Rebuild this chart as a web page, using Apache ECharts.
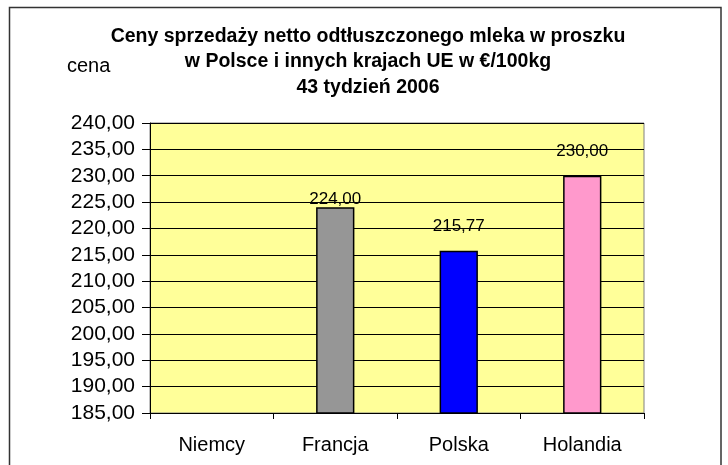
<!DOCTYPE html>
<html>
<head>
<meta charset="utf-8">
<script src="https://cdn.jsdelivr.net/npm/echarts@6/dist/echarts.min.js"></script>
<style>
html,body{margin:0;padding:0;background:#fff;}
#c{width:728px;height:465px;}
</style>
</head>
<body>
<div id="c"></div>
<script>
var categories = ['Niemcy', 'Francja', 'Polska', 'Holandia'];
var prices = [null, 224.00, 215.77, 230.00];
var titleLines = ['Ceny sprzedaży netto odtłuszczonego mleka w proszku', 'w Polsce i innych krajach UE w €/100kg', '43 tydzień 2006'];
var yAxisName = 'cena';
var yMin = 185, yMax = 240, yStep = 5;

var barColors = ['#969696', '#969696', '#0000FF', '#FF99CC'];
var labelDistances = [0, 0, 16, 16];
var FONT = '"Liberation Sans", Arial, sans-serif';

function fmt(v) { return v.toFixed(2).replace('.', ','); }

var chart = echarts.init(document.getElementById('c'), null, {renderer: 'canvas'});
var seriesData = prices.map(function (v, i) {
  return {
    value: v,
    itemStyle: {color: barColors[i]},
    label: {distance: labelDistances[i]}
  };
});

chart.setOption({
  animation: false,
  backgroundColor: '#fff',
  textStyle: {fontFamily: FONT},
  title: {
    text: titleLines.join('\n'),
    left: 368, top: 23.5, padding: 0,
    textAlign: 'center',
    textStyle: {fontFamily: FONT, fontSize: 19.5, fontWeight: 'bold', color: '#000', lineHeight: 25.5}
  },
  graphic: [
    {type: 'rect', shape: {x: 9.5, y: 7.5, width: 711.5, height: 480}, style: {fill: 'none', stroke: '#333', lineWidth: 1.5}, silent: true},
    {type: 'text', left: 67, top: 56, style: {text: yAxisName, font: '20px ' + FONT, fill: '#000'}}
  ],
  grid: {left: 150, right: 84, top: 123, bottom: 52, show: true, backgroundColor: '#FFFF99', borderColor: '#808080', borderWidth: 1},
  xAxis: {
    type: 'category',
    data: categories,
    axisLine: {lineStyle: {color: '#000', width: 1}},
    axisTick: {show: true, length: 6, lineStyle: {color: '#000'}},
    axisLabel: {fontFamily: FONT, fontSize: 20, color: '#000', margin: 22}
  },
  yAxis: {
    type: 'value',
    min: yMin, max: yMax, interval: yStep,
    axisLine: {show: true, lineStyle: {color: '#000', width: 1}},
    axisTick: {show: true, length: 8, lineStyle: {color: '#000'}},
    axisLabel: {fontFamily: FONT, fontSize: 21, color: '#000', margin: 15, formatter: function (v) { return fmt(v); }},
    splitLine: {show: true, lineStyle: {color: '#000', width: 1}}
  },
  series: [{
    type: 'bar',
    data: seriesData,
    barWidth: '31%',
    itemStyle: {borderColor: '#000', borderWidth: 1.5},
    label: {show: true, position: 'top', fontFamily: FONT, fontSize: 17, color: '#000', formatter: function (p) { return fmt(p.value); }}
  }]
});
</script>
</body>
</html>
